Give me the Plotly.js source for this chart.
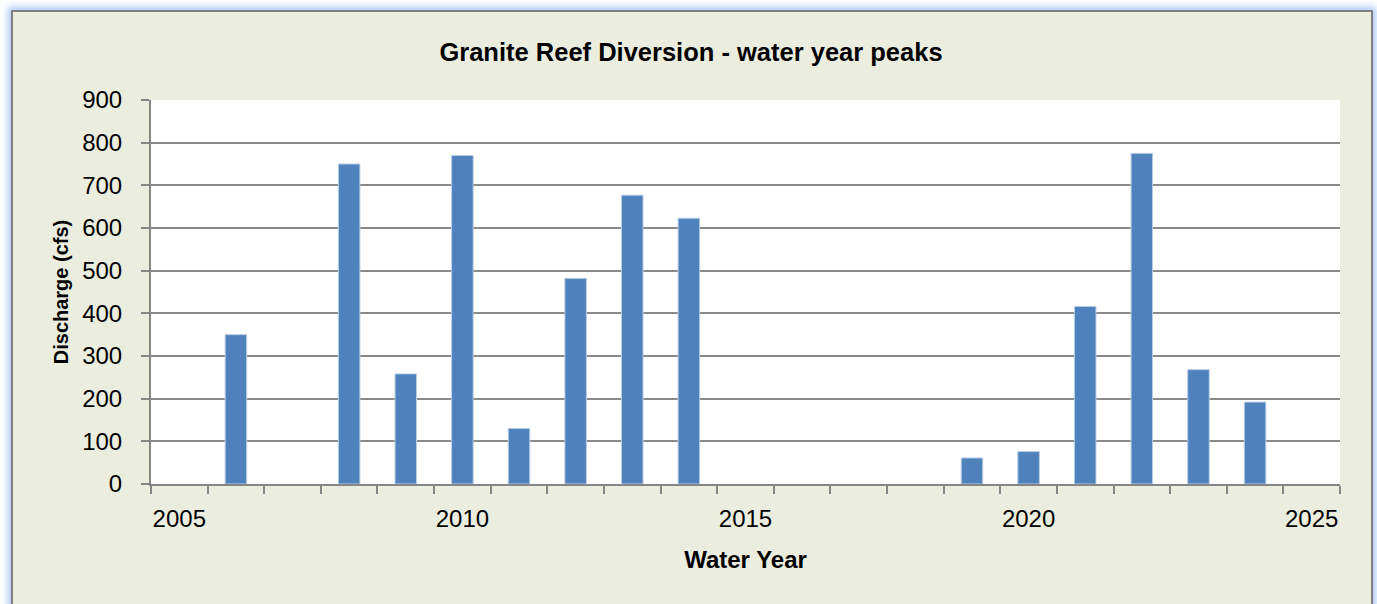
<!DOCTYPE html>
<html>
<head>
<meta charset="utf-8">
<script src="https://cdn.plot.ly/plotly-3.0.1.min.js"></script>
<style>
  html, body { margin:0; padding:0; background:#ffffff; width:1377px; height:604px; overflow:hidden; }
  #frame { position:absolute; left:11px; top:10px; width:1358px; height:620px; background:#EBEEDF;
           border:2px solid #808080; box-shadow:0 0 7px 3px #a9c8f5; }
  #chart { position:absolute; left:0; top:0; width:1377px; height:604px; }
</style>
</head>
<body>
<div id="frame"></div>
<div id="chart"></div>
<script>
const years = [2006, 2008, 2009, 2010, 2011, 2012, 2013, 2014, 2019, 2020, 2021, 2022, 2023, 2024];
const peaks = [350, 750, 258, 770, 130, 482, 677, 623, 61, 76, 416, 775, 268, 192];
const xTickVals = [2005, 2010, 2015, 2020, 2025];
const xTickText = ['2005', '2010', '2015', '2020', '2025'];
const firstYear = 2005, lastYear = 2025;

const catBounds = [];
for (let y = firstYear; y <= lastYear + 1; y++) catBounds.push(y - 0.5);

const fontFam = '"Liberation Sans", Arial, sans-serif';

const trace = {
  type: 'bar',
  x: years,
  y: peaks,
  marker: { color: '#4F81BD', line: { color: '#B9CDE5', width: 1 } },
  hoverinfo: 'x+y'
};

const layout = {
  width: 1377, height: 604,
  paper_bgcolor: 'rgba(0,0,0,0)',
  plot_bgcolor: '#ffffff',
  margin: { l: 151, r: 37, t: 100, b: 120 },
  showlegend: false,
  bargap: 0.62,
  font: { family: fontFam, color: '#000000', size: 24 },
  title: {
    text: '<b>Granite Reef Diversion - water year peaks</b>',
    font: { family: fontFam, size: 25.5, color: '#000000' },
    xref: 'container', yref: 'container',
    x: 691 / 1377, y: 1 - 52 / 604, xanchor: 'center', yanchor: 'middle'
  },
  xaxis: {
    range: [firstYear - 0.5, lastYear + 0.5],
    tickmode: 'array', tickvals: xTickVals, ticktext: xTickText,
    ticks: '', ticklabelstandoff: 12,
    showgrid: false, zeroline: false,
    showline: true, linecolor: '#868686', linewidth: 2,
    tickfont: { family: fontFam, size: 24 },
    minor: { tickmode: 'array', tickvals: catBounds, ticks: 'outside', ticklen: 8, tickwidth: 2, tickcolor: '#868686', showgrid: false },
    title: { text: '<b>Water Year</b>', font: { family: fontFam, size: 24 }, standoff: 20 }
  },
  yaxis: {
    range: [0, 900], tickmode: 'linear', tick0: 0, dtick: 100,
    ticks: 'outside', ticklen: 8, tickwidth: 2, tickcolor: '#868686',
    ticklabelstandoff: 14,
    showgrid: true, gridcolor: '#8a8a8a', gridwidth: 2,
    zeroline: false,
    showline: true, linecolor: '#868686', linewidth: 2,
    tickfont: { family: fontFam, size: 24 },
    title: { text: '<b>Discharge (cfs)</b>', font: { family: fontFam, size: 20 }, standoff: 8 }
  }
};

Plotly.newPlot('chart', [trace], layout, { displayModeBar: false, staticPlot: true });
</script>
</body>
</html>
